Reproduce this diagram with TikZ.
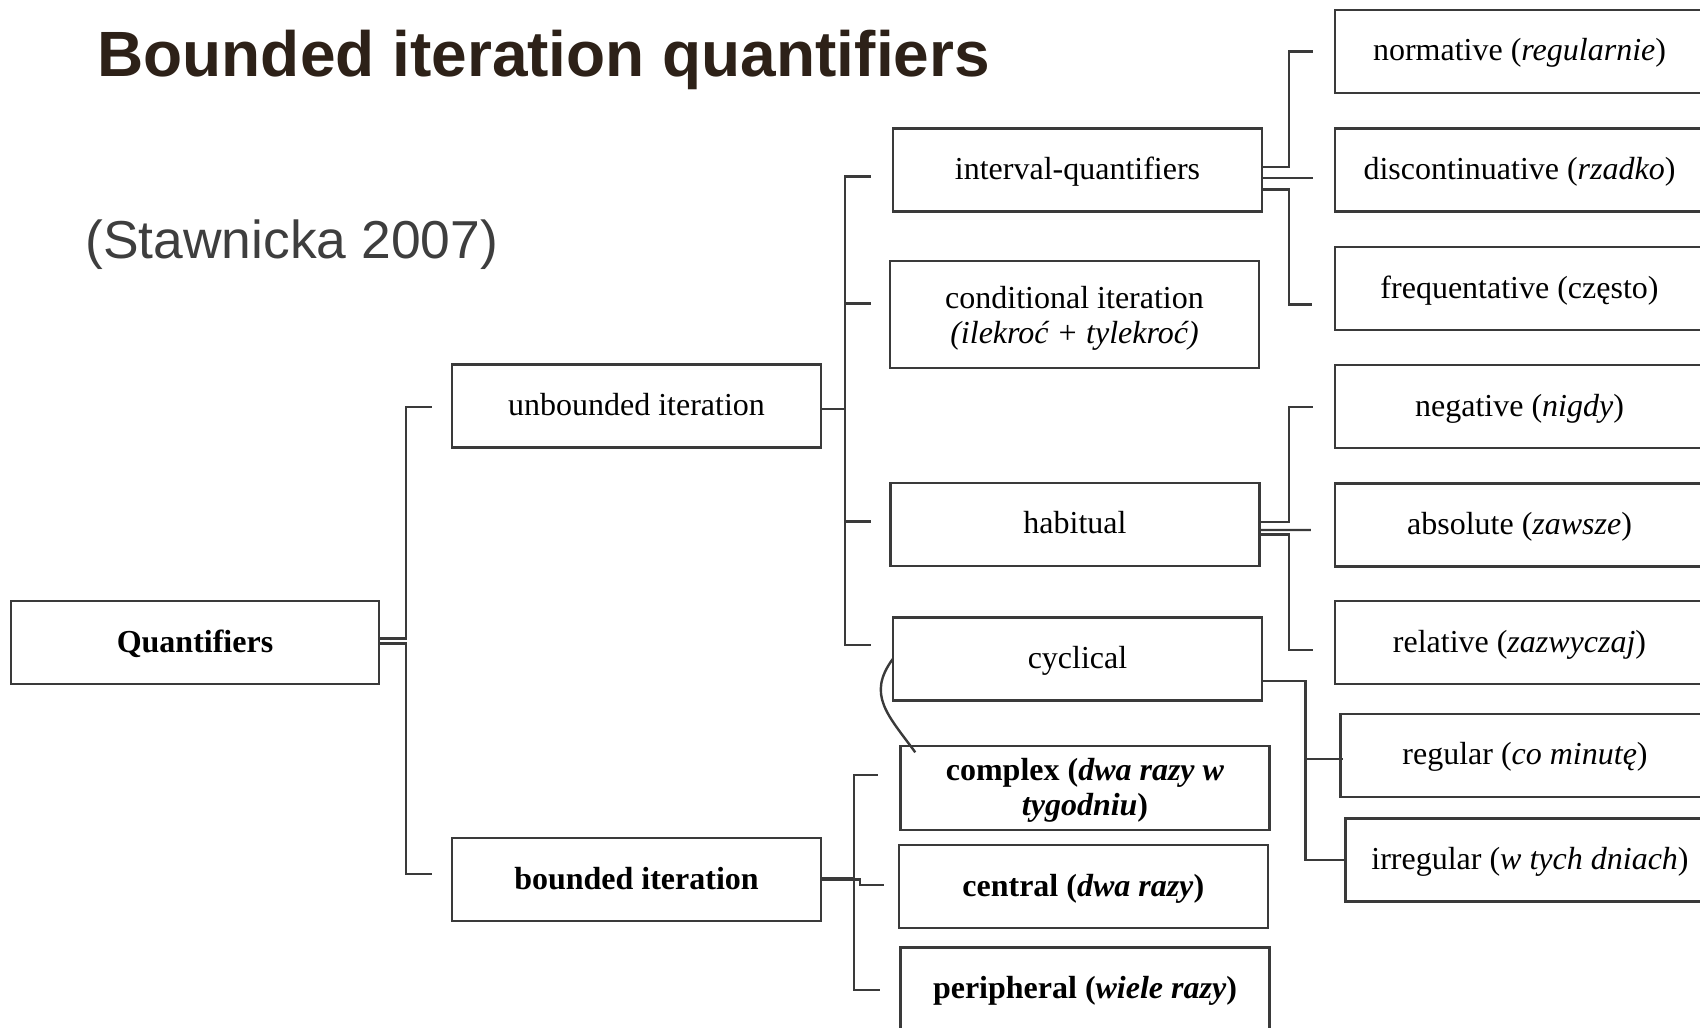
\documentclass[tikz,border=0pt]{standalone}
\usepackage{fontspec}
\setmainfont{Liberation Serif}
\newfontfamily\headfont{Liberation Sans}
\definecolor{linegray}{RGB}{58,58,58}
\definecolor{titlebrown}{RGB}{45,33,24}
\definecolor{citegray}{RGB}{62,62,62}
\tikzset{
  box/.style={draw=linegray,line width=1.25pt,minimum width=184.5pt,minimum height=41.5pt,
    inner sep=2pt,align=center,text height=13pt,text depth=3.5pt,font=\fontsize{16}{17.5}\selectfont},
  link/.style={draw=linegray,line width=1.2pt}
}

\begin{document}
\begin{tikzpicture}[x=0.5pt,y=-0.5pt]
\clip (0,0) rectangle (1700,1027);
% headings
\node[anchor=base west,inner sep=0,text=titlebrown,font=\headfont\bfseries\fontsize{32}{38}\selectfont]
  (title) at (97,77) {Bounded iteration quantifiers};
\node[anchor=base west,inner sep=0,text=citegray,font=\headfont\fontsize{26.7}{32}\selectfont]
  (cite) at (85,258) {(Stawnicka 2007)};
% boxes
\node[box,minimum width=184pt] (Q) at (195,642.5) {\textbf{Quantifiers}};
\node[box] (unb) at (636.5,406) {unbounded iteration};
\node[box] (bnd) at (636.5,879.7) {\textbf{bounded iteration}};
\node[box] (intv) at (1077.5,170) {interval-quantifiers};
\node[box,minimum height=53.5pt,text height={},text depth=-0.8pt] (cond) at (1074.5,314.5) {conditional iteration\\\textit{(ilekroć + tylekroć)}};
\node[box] (hab) at (1075,524.3) {habitual};
\node[box] (cyc) at (1077.5,659) {cyclical};
\node[box,minimum height=42pt,text height={},text depth=1pt] (cplx) at (1085,787.8) {\textbf{complex (\textit{dwa razy w}}\\\textbf{\textit{tygodniu})}};
\node[box] (cent) at (1083.3,886.7) {\textbf{central (\textit{dwa razy})}};
\node[box] (peri) at (1085,989) {\textbf{peripheral (\textit{wiele razy})}};
\node[box] (norm) at (1519.5,51.5) {normative (\textit{regularnie})};
\node[box] (disc) at (1519.5,170) {discontinuative (\textit{rzadko})};
\node[box] (freq) at (1519.5,288.5) {frequentative (często)};
\node[box] (neg) at (1519.5,406.7) {negative (\textit{nigdy})};
\node[box] (abs) at (1519.5,525) {absolute (\textit{zawsze})};
\node[box] (rel) at (1519.5,642.7) {relative (\textit{zazwyczaj})};
\node[box] (reg) at (1525,755.3) {regular (\textit{co minutę})};
\node[box] (irr) at (1530,860) {irregular (\textit{w tych dniach})};
% connectors
\draw[link] ([shift={(0,-4)}]Q.east) -- ++(26,0) |- ([shift={(-19,1)}]unb.west);
\draw[link] ([shift={(0,1)}]Q.east) -- ++(26,0) |- ([shift={(-19,-5.7)}]bnd.west);
\draw[link] ([shift={(0,2.7)}]unb.east) -- ++(22.5,0) |- ([shift={(-21,6.7)}]intv.west);
\draw[link] ([shift={(0,2.7)}]unb.east) -- ++(22.5,0) |- ([shift={(-18,-11)}]cond.west);
\draw[link] ([shift={(0,2.7)}]unb.east) -- ++(22.5,0) |- ([shift={(-18,-2.8)}]hab.west);
\draw[link] ([shift={(0,2.7)}]unb.east) -- ++(22.5,0) |- ([shift={(-21,-14)}]cyc.west);
\draw[link] ([shift={(0,-3)}]intv.east) -- ++(25.5,0) |- ([shift={(-20.5,0)}]norm.west);
\draw[link] ([shift={(0,8)}]intv.east) -- ([shift={(-20.5,8)}]disc.west);
\draw[link] ([shift={(0,19.5)}]intv.east) -- ++(25.5,0) |- ([shift={(-22,16)}]freq.west);
\draw[link] ([shift={(0,-2.6)}]hab.east) -- ++(28,0) |- ([shift={(-20.5,0)}]neg.west);
\draw[link] ([shift={(0,5.7)}]hab.east) -- ([shift={(-23,5)}]abs.west);
\draw[link] ([shift={(0,10)}]hab.east) -- ++(28,0) |- ([shift={(-20.5,7.3)}]rel.west);
\draw[link] ([shift={(0,21.7)}]cyc.east) -- ++(42.3,0) |- (irr.west);
\draw[link] ([shift={(0,21.7)}]cyc.east) -- ++(42.3,0) |- ([shift={(4,3.4)}]reg.west);
\draw[link] ([shift={(0,-2)}]bnd.east) -- ++(31.7,0) |- ([shift={(-21.5,-12.8)}]cplx.west);
\draw[link] ([shift={(0,-0.4)}]bnd.east) -- ++(37.5,0) |- ([shift={(-13.6,-1.7)}]cent.west);
\draw[link] ([shift={(0,-0.5)}]bnd.east) -- ++(31.7,0) |- ([shift={(-19,1)}]peri.west);
\draw[link] ([shift={(1,0)}]cyc.west) .. controls +(-26.5,36) and +(-27,-37) .. ([shift={(16,-35.5)}]cplx.west);
\end{tikzpicture}
\end{document}
